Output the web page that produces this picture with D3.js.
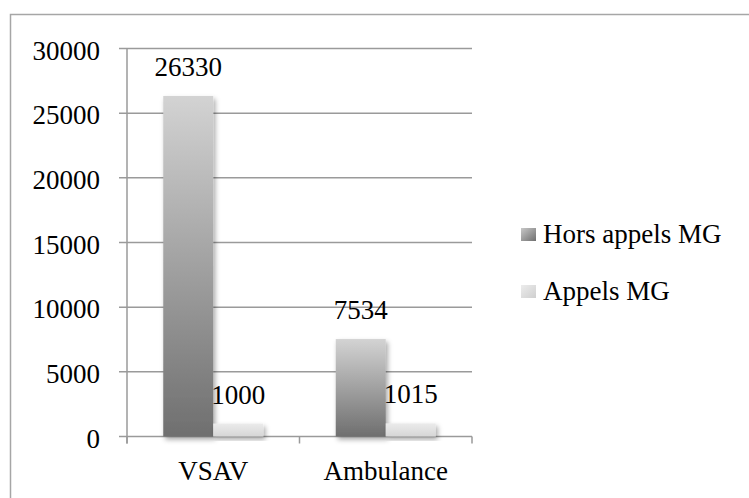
<!DOCTYPE html>
<html>
<head>
<meta charset="utf-8">
<script src="https://cdn.jsdelivr.net/npm/d3@7"></script>
<style>
  body { margin: 0; background: #fff; }
  text { font-family: "Liberation Serif", "DejaVu Serif", serif; fill: #000; }
</style>
</head>
<body>
<svg id="chart" width="749" height="498"></svg>
<script>
const categories = ['VSAV', 'Ambulance'];
const seriesNames = ['Hors appels MG', 'Appels MG'];
const horsAppels = [26330, 7534];
const appels = [1000, 1015];
const yTicks = [0, 5000, 10000, 15000, 20000, 25000, 30000];

const svg = d3.select('#chart');
const fontSize = 27;

// frame (only top and left edges are inside the picture)
svg.append('rect')
  .attr('x', 10.5).attr('y', 14.5)
  .attr('width', 760).attr('height', 520)
  .attr('fill', 'none')
  .attr('stroke', '#a6a6a6')
  .attr('stroke-width', 1.5);

const defs = svg.append('defs');
const gradDark = defs.append('linearGradient').attr('id', 'gDark')
  .attr('x1', 0).attr('y1', 0).attr('x2', 0).attr('y2', 1);
gradDark.append('stop').attr('offset', '0%').attr('stop-color', '#d3d3d3');
gradDark.append('stop').attr('offset', '100%').attr('stop-color', '#6f6f6f');
const gradLight = defs.append('linearGradient').attr('id', 'gLight')
  .attr('x1', 0).attr('y1', 0).attr('x2', 0).attr('y2', 1);
gradLight.append('stop').attr('offset', '0%').attr('stop-color', '#ebebeb');
gradLight.append('stop').attr('offset', '100%').attr('stop-color', '#d6d6d6');
const legDark = defs.append('linearGradient').attr('id', 'lDark')
  .attr('x1', 0).attr('y1', 0).attr('x2', 1).attr('y2', 1);
legDark.append('stop').attr('offset', '0%').attr('stop-color', '#c8c8c8');
legDark.append('stop').attr('offset', '100%').attr('stop-color', '#6f6f6f');
const legLight = defs.append('linearGradient').attr('id', 'lLight')
  .attr('x1', 0).attr('y1', 0).attr('x2', 1).attr('y2', 1);
legLight.append('stop').attr('offset', '0%').attr('stop-color', '#ececec');
legLight.append('stop').attr('offset', '100%').attr('stop-color', '#cfcfcf');

const shadow = defs.append('filter').attr('id', 'shadow')
  .attr('x', '-20%').attr('y', '-20%').attr('width', '150%').attr('height', '150%');
shadow.append('feDropShadow')
  .attr('dx', 2).attr('dy', 3).attr('stdDeviation', 2.5)
  .attr('flood-color', '#000').attr('flood-opacity', 0.35);

const fills = ['url(#gDark)', 'url(#gLight)'];
const legendFills = ['url(#lDark)', 'url(#lLight)'];

const plotLeft = 127, plotRight = 472, plotTop = 48.5, plotBottom = 436.5;

const x0 = d3.scaleBand().domain(categories).range([plotLeft, plotRight]);
const x1 = d3.scaleBand().domain(seriesNames).range([0, x0.bandwidth()]).paddingOuter(0.725).paddingInner(0);
const y = d3.scaleLinear().domain([0, 30000]).range([plotBottom, plotTop]);

// gridlines
svg.append('g').selectAll('line').data(yTicks).join('line')
  .attr('x1', plotLeft - 8).attr('x2', plotRight)
  .attr('y1', d => y(d)).attr('y2', d => y(d))
  .attr('stroke', '#9a9a9a').attr('stroke-width', 1.5);

// y axis line
svg.append('line')
  .attr('x1', plotLeft).attr('x2', plotLeft)
  .attr('y1', plotTop).attr('y2', plotBottom + 7)
  .attr('stroke', '#9a9a9a').attr('stroke-width', 1.5);

// category ticks
svg.append('g').selectAll('line').data(d3.range(categories.length + 1)).join('line')
  .attr('x1', i => plotLeft + i * x0.step()).attr('x2', i => plotLeft + i * x0.step())
  .attr('y1', plotBottom).attr('y2', plotBottom + 7)
  .attr('stroke', '#9a9a9a').attr('stroke-width', 1.5);

// y labels
svg.append('g').selectAll('text').data(yTicks).join('text')
  .attr('x', 100).attr('y', d => y(d) + 11)
  .attr('text-anchor', 'end')
  .attr('font-size', fontSize)
  .text(d => d);

// x labels
svg.append('g').selectAll('text').data(categories).join('text')
  .attr('x', d => x0(d) + x0.bandwidth() / 2).attr('y', 480)
  .attr('text-anchor', 'middle')
  .attr('font-size', fontSize)
  .text(d => d);

const rows = categories.map((c, i) => ({
  cat: c,
  vals: [horsAppels[i], appels[i]]
}));

const groups = svg.append('g').selectAll('g').data(rows).join('g')
  .attr('transform', d => `translate(${x0(d.cat)},0)`);

groups.selectAll('rect').data(d => d.vals.map((v, j) => ({ s: seriesNames[j], v, j }))).join('rect')
  .attr('x', d => x1(d.s))
  .attr('y', d => y(d.v))
  .attr('width', x1.bandwidth())
  .attr('height', d => y(0) - y(d.v))
  .attr('fill', d => fills[d.j])
  .attr('filter', 'url(#shadow)');

groups.selectAll('text').data(d => d.vals.map((v, j) => ({ s: seriesNames[j], v, j }))).join('text')
  .attr('x', d => x1(d.s) + x1.bandwidth() / 2)
  .attr('y', d => y(d.v) - 20)
  .attr('text-anchor', 'middle')
  .attr('font-size', fontSize)
  .text(d => d.v);

// legend
const legend = svg.append('g').selectAll('g').data(seriesNames).join('g')
  .attr('transform', (d, i) => `translate(521,${228 + i * 57})`);
legend.append('rect')
  .attr('width', 15).attr('height', 13)
  .attr('fill', (d, i) => legendFills[i]);
legend.append('text')
  .attr('x', 22).attr('y', 15)
  .attr('font-size', fontSize)
  .text(d => d);
</script>
</body>
</html>
